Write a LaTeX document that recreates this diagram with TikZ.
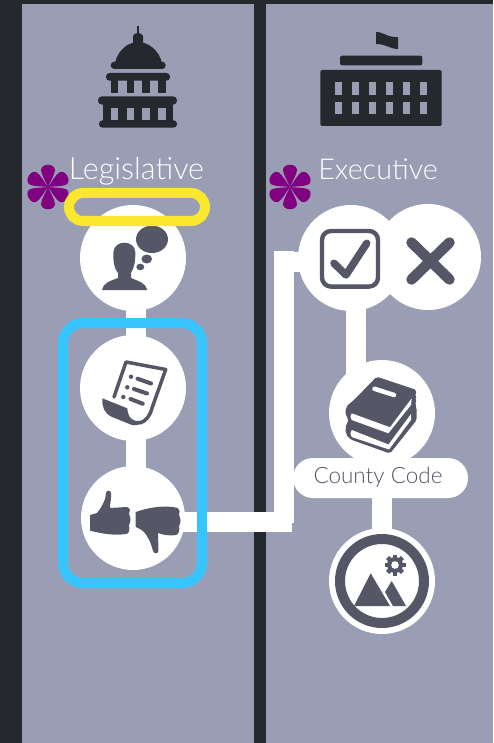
\documentclass[tikz,border=0pt]{standalone}
\usepackage{fontspec}
\setmainfont{Lato}[UprightFont=* Light]
\usepackage{tikz}
\definecolor{panel}{HTML}{9A9EB5}
\definecolor{night}{HTML}{25292D}
\definecolor{slate}{HTML}{555766}
\definecolor{halo}{HTML}{FAE82E}
\definecolor{sky}{HTML}{36C5FF}
\definecolor{bloom}{HTML}{800080}
\tikzset{
stage/.style={circle,fill=white,draw=none,minimum size=106pt,inner sep=0pt},
link/.style={draw=white,line width=20pt},
title/.style={text=white,inner sep=0pt,anchor=base},
petal/.pic={\foreach \a in {0,60,...,300}{\fill[rotate=\a,bloom] (0,0) .. controls (2,-5) and (7,-13) .. (7,-17) .. controls (7,-24) and (-7,-24) .. (-7,-17) .. controls (-7,-13) and (-2,-5) .. (0,0);}}
}
\begin{document}
\begin{tikzpicture}[x=1pt,y=-1pt]
\useasboundingbox (0,0) rectangle (493,743);
\fill[night] (0,0) rectangle (493,743);
\fill[panel] (22,4) rectangle (254,743);
\fill[panel] (266,4) rectangle (493,743);
% stages
\node[stage] (v0) at (133,258) {};
\node[stage] (v1) at (133,388) {};
\node[stage,minimum size=104pt] (v2) at (133,518) {};
\node[stage] (v3) at (351,258) {};
\node[stage] (v4) at (428,257) {};
\node[stage] (v5) at (382,413) {};
\node[stage] (v6) at (382,581) {};
\coordinate (j0) at (292,522);
\coordinate (j1) at (284,523);
\coordinate (j2) at (284,251);
\coordinate (j3) at (274,261.5);
% connectors
\draw[link] ([xshift=3pt]v0.center) -- ([xshift=3pt]v1.center);
\draw[link] ([xshift=3pt]v1.center) -- ([xshift=3pt]v2.center);
\draw[link] (v2.center |- j0) -- (j0);
\draw[link] (j1) -- (j2);
\draw[link] (j3) -- (j3 -| v3.center);
\draw[link] ([xshift=5pt]v3.center) -- ([xshift=5pt,yshift=-20pt]v3.center |- v5.center);
\draw[link] (v5.center) -- (v6.center);
% capitol
\begin{scope}[night]
\fill (137,26) rectangle (139,34);
\fill (133,43) -- (133,36) .. controls (134,32) and (142,32) .. (143,36) -- (143,43) -- cycle;
\fill (115,63) .. controls (118,50) and (128,42) .. (138,42) .. controls (148,42) and (159,50) .. (162,63) -- cycle;
\fill[rounded corners=3.5pt] (110.7,61.7) rectangle (165.7,69);
\fill[rounded corners=3.5pt] (106,73) rectangle (170,80.7);
\foreach \x in {110.7,126.5,142.2,158}{\fill (\x,80) rectangle (\x+7.7,92.7);}
\fill[rounded corners=4pt] (98,96.3) rectangle (177,104.7);
\fill (103,104) rectangle (173.3,121);
\foreach \x in {110.7,126.5,142.2,158}{\fill[panel] (\x,108.3) rectangle (\x+7.7,120.3);}
\fill[rounded corners=3.5pt] (99,120.3) rectangle (177,127.7);
\end{scope}
% office
\begin{scope}[night]
\fill (376,32) .. controls (384,32) and (388,38) .. (398,37) -- (398,49) .. controls (390,49) and (386,44) .. (376,44) -- cycle;
\fill[rounded corners=2pt] (340,55.7) rectangle (422.3,65.3);
\fill[rounded corners=2pt] (320.3,70) rectangle (441.7,126);
\foreach \x in {335,352,369,386,402.7,419.7}{
\fill[panel] (\x,82.3) rectangle (\x+7.3,94.7);
\fill[panel] (\x,101.7) rectangle (\x+7.3,114);
}
\end{scope}
% thinking person
\fill[slate] (152,239.3) ellipse [x radius=16,y radius=13.7];
\fill[slate] (146.7,259) ellipse [x radius=5.3,y radius=4.5];
\fill[slate] (140.3,267) ellipse [x radius=4,y radius=3.3];
\fill[slate] (102,290) .. controls (103,283) and (110,281) .. (118,278) -- (118,273) .. controls (114,268) and (113,262) .. (113.5,252) .. controls (114,245) and (120,242.7) .. (124.5,242.7) .. controls (130,242.7) and (135,246) .. (135.3,252) .. controls (135.5,262) and (134,268) .. (131,273) -- (131,278) .. controls (138,281) and (146,283) .. (147.3,290) -- cycle;
% bill
\draw[slate,line width=3.5pt,line join=round,line cap=round] (114,397) -- (126,362) -- (165.7,369.5) -- (152,408) .. controls (150,416) and (146,421) .. (140,423);
\fill[slate] (102.3,398.3) -- (127.3,408.3) .. controls (128,418) and (133,422) .. (140,421) -- (146,419) .. controls (142,424) and (138,426) .. (132,425) -- (112,417) .. controls (104,413) and (102,407) .. (102.3,398.3) -- cycle;
\foreach \a/\b in {131/376.7,127.3/387.3,123.3/397}{\fill[slate] (\a,\b) circle (2.2);}
\draw[slate,line width=4pt,line cap=round] (137.5,378.7) -- (151,383.5);
\draw[slate,line width=4pt,line cap=round] (134,389) -- (147,393.5);
\draw[slate,line width=4pt,line cap=round] (130.5,399) -- (142.7,403.7);
% thumbs
\fill[slate] (90,515) -- (97,513) .. controls (102,507) and (106,499) .. (106,493) .. controls (106.5,490) and (110.5,490) .. (111,493) .. controls (111.5,498) and (110,503) .. (110,508) -- (127,507) .. controls (131,508) and (130,512) .. (129,514) .. controls (131,518) and (131,522) .. (129,525) .. controls (130,530) and (129,534) .. (126,534) .. controls (112,536) and (100,533) .. (90,530.7) -- cycle;
\fill[slate] (135.7,512) .. controls (150,507) and (165,505) .. (178,508) .. controls (180,510) and (180,513) .. (179,515) .. controls (181,519) and (181,523) .. (179,526) .. controls (180,530) and (179,534) .. (176,535) .. controls (170,536) and (163,535) .. (158,533) -- (158.5,551) .. controls (158,554) and (154,554) .. (153,551) .. controls (151,542) and (146,532) .. (140,529) -- (135.7,527) -- cycle;
% check and cross
\draw[slate,line width=4.4pt,rounded corners=9pt] (322,231) rectangle (378,286.6);
\draw[slate,line width=7.5pt,line cap=round,line join=round] (334,263.3) -- (346,275) -- (366.7,243.3);
\draw[slate,line width=10.5pt,line cap=round] (411.5,242.5) -- (449.5,279.5);
\draw[slate,line width=10.5pt,line cap=round] (449.5,242.5) -- (411.5,279.5);
% books
\fill[slate,rounded corners=2pt] (376.7,376.7) -- (416.7,390) -- (415,397) -- (416.7,399) -- (415,405) -- (416.7,408) -- (416.7,420) -- (390,453.5) -- (352,440) .. controls (345,436) and (344,427) .. (349,420) .. controls (344,414) and (345,406) .. (352,402) -- cycle;
\fill[white] (351.7,413.3) -- (390,427.3) -- (411.7,398.3) -- (411,405) -- (388.3,433.3) -- (351.7,420) .. controls (350,418) and (350,415) .. (351.7,413.3) -- cycle;
\fill[white] (351.7,430) -- (388.5,444.5) -- (411,414) -- (411,420) -- (389,449.5) -- (351.7,437) .. controls (350,435) and (350,432) .. (351.7,430) -- cycle;
\draw[white,line width=4.5pt,line cap=round] (374.5,388.8) -- (394,395);
% picture
\draw[slate,line width=10pt] (v6.center) circle (42);
\fill[slate] (370.7,573.3) -- (390,606) -- (354,606) -- cycle;
\fill[slate] (391.7,581) -- (406,606) -- (393,606) -- (385,592) -- cycle;
\foreach \a in {0,45,...,315}{\fill[slate,shift={(395,565)},rotate=\a] (-2.2,-10.5) rectangle (2.2,0);}
\fill[slate] (395,565) circle (8);
\fill[white] (395,565) circle (3.8);
% code label
\node[fill=white,rounded corners=20pt,minimum width=175pt,minimum height=40pt,inner sep=0pt] (v7) at (380.5,478) {};
\node[text=slate,inner sep=0pt,font=\fontsize{22.5}{26}\selectfont] (v12) at (378,477) {County Code};
% titles
\node[title,font=\fontsize{30.5}{32}\selectfont] (v8) at (136.5,180) {Legislative};
\node[title,font=\fontsize{28.7}{32}\selectfont] (v9) at (378,180) {Executive};
% stars
\pic at (48,187) {petal};
\pic at (290,187) {petal};
% highlights
\node[draw=halo,line width=10pt,rounded corners=14pt,minimum width=136pt,minimum height=28pt,inner sep=0pt] (v10) at (137,207) {};
\node[draw=sky,line width=10pt,rounded corners=20pt,minimum width=139pt,minimum height=260pt,inner sep=0pt] (v11) at (132.5,453) {};
\end{tikzpicture}
\end{document}
